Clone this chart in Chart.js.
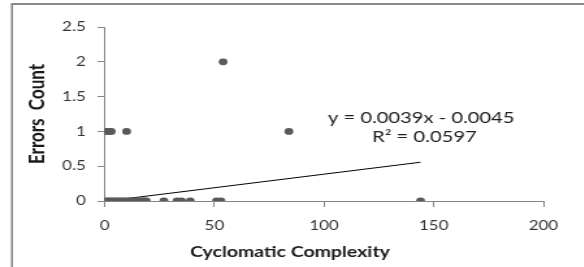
<!DOCTYPE html>
<html>
<head>
<meta charset="utf-8">
<script src="https://cdn.jsdelivr.net/npm/chart.js@4/dist/chart.umd.min.js"></script>
<style>
  html, body { margin: 0; padding: 0; background: #fff; overflow: hidden; }
  /* the source picture is a horizontally stretched Excel export, so the
     chart is drawn narrow and widened by the same factor */
  #wrap {
    position: relative;
    width: 449px;
    height: 267px;
    transform: scaleX(1.3);
    transform-origin: 0 0;
  }
</style>
</head>
<body>
<div id="wrap"><canvas id="scatter"></canvas></div>
<script>
// errors count per method vs cyclomatic complexity
const complexityZero = [0, 1, 2, 3, 4, 5, 6, 7, 8, 9, 10, 11, 12, 13, 14, 15, 16, 17, 18, 19, 27, 33, 35, 39, 51, 53, 144];
const complexityOne = [0, 1, 2, 3, 10, 84];
const complexityTwo = [54];

// trendline as printed on the chart
const slope = 0.0039;
const intercept = -0.0045;
const trendRange = [0, 144];
const trendText = ['y = 0.0039x - 0.0045', 'R\u00b2 = 0.0597'];

const xTitle = 'Cyclomatic Complexity';
const yTitle = 'Errors  Count';

const xTicks = [0, 50, 100, 150, 200];
const yTicks = [0, 0.5, 1, 1.5, 2, 2.5];

const points = []
  .concat(complexityZero.map(x => ({ x: x, y: 0 })))
  .concat(complexityOne.map(x => ({ x: x, y: 1 })))
  .concat(complexityTwo.map(x => ({ x: x, y: 2 })));

const trendPoints = trendRange.map(x => ({ x: x, y: slope * x + intercept }));

const axisGray = '#868686';
const textGray = '#333';
const fontName = 'Lato, "Open Sans", sans-serif';

/* frame around the figure (only left + top show in the crop) */
const framePlugin = {
  id: 'frame',
  beforeDraw(chart) {
    const ctx = chart.ctx;
    ctx.save();
    ctx.strokeStyle = '#8a8a8a';
    ctx.lineWidth = 1.6;
    ctx.beginPath();
    ctx.moveTo(9.2, chart.height);
    ctx.lineTo(9.2, 4);
    ctx.stroke();
    ctx.lineWidth = 2;
    ctx.beginPath();
    ctx.moveTo(8.4, 4);
    ctx.lineTo(chart.width, 4);
    ctx.stroke();
    ctx.restore();
  }
};

/* regression label (data space) + x title centred on the whole figure */
const labelPlugin = {
  id: 'labels',
  afterDatasetsDraw(chart) {
    const { ctx, scales } = chart;
    ctx.save();
    ctx.fillStyle = '#202020';
    ctx.font = '15.5px ' + fontName;
    ctx.textBaseline = 'middle';
    ctx.textAlign = 'left';
    ctx.fillText(trendText[0], scales.x.getPixelForValue(101.8), scales.y.getPixelForValue(1.19));
    ctx.fillText(trendText[1], scales.x.getPixelForValue(121.9), scales.y.getPixelForValue(0.917));

    ctx.fillStyle = '#1a1a1a';
    ctx.font = 'bold 15px ' + fontName;
    ctx.textAlign = 'center';
    ctx.fillText(xTitle, 223, 252);
    ctx.restore();
  }
};

new Chart(document.getElementById('scatter'), {
  type: 'scatter',
  data: {
    datasets: [
      {
        label: 'Errors',
        data: points,
        backgroundColor: '#595959',
        borderColor: '#595959',
        pointRadius: 3.4,
        pointHoverRadius: 3.4,
        borderWidth: 0
      },
      {
        label: 'Linear trend',
        type: 'line',
        data: trendPoints,
        borderColor: '#000',
        borderWidth: 1,
        pointRadius: 0,
        fill: false
      }
    ]
  },
  options: {
    responsive: true,
    maintainAspectRatio: false,
    animation: false,
    layout: {
      padding: { left: 0, top: 27, right: 31, bottom: 0 }
    },
    scales: {
      x: {
        type: 'linear',
        min: 0,
        max: 200,
        afterBuildTicks: axis => { axis.ticks = xTicks.map(v => ({ value: v })); },
        afterFit: axis => { axis.height = 66; },
        border: { color: axisGray, width: 1 },
        grid: { drawOnChartArea: false, color: axisGray, tickLength: 6 },
        ticks: {
          color: textGray,
          font: { family: fontName, size: 13 },
          padding: 11,
          callback: v => String(v)
        }
      },
      y: {
        type: 'linear',
        min: 0,
        max: 2.5,
        afterBuildTicks: axis => { axis.ticks = yTicks.map(v => ({ value: v })); },
        afterFit: axis => { axis.width = 80.5; },
        border: { color: axisGray, width: 1 },
        grid: { drawOnChartArea: false, color: axisGray, tickLength: 5.5 },
        ticks: {
          color: textGray,
          font: { family: fontName, size: 13 },
          padding: 9,
          callback: v => String(v)
        },
        title: {
          display: true,
          text: yTitle,
          color: '#1a1a1a',
          font: { family: fontName, size: 17, weight: 'bold' },
          padding: { top: 18.5, bottom: 0 }
        }
      }
    },
    plugins: {
      legend: { display: false },
      tooltip: { enabled: false }
    }
  },
  plugins: [framePlugin, labelPlugin]
});
</script>
</body>
</html>
